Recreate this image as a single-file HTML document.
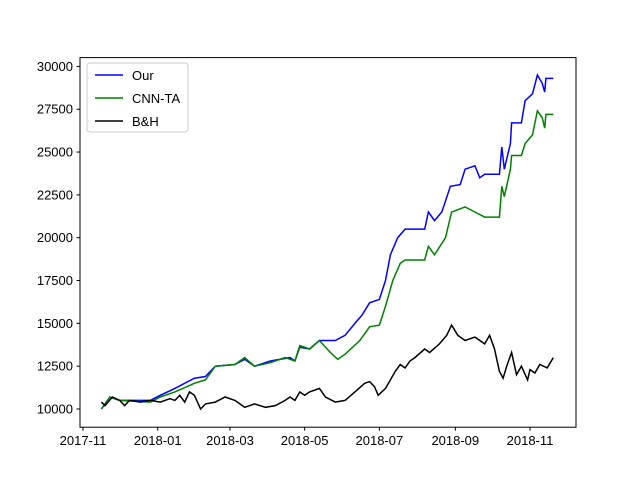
<!DOCTYPE html>
<html><head><meta charset="utf-8"><style>
body{margin:0;background:#fff}
svg text{font-family:"Liberation Sans",sans-serif;font-size:13px;fill:#000}
</style></head><body>
<svg id="chart" width="640" height="480" xmlns="http://www.w3.org/2000/svg">
<rect width="640" height="480" fill="#fff"/>
<g id="lines"></g>
<rect x="80" y="57.6" width="496" height="369.6" fill="none" stroke="#000" stroke-width="1"/>
<g id="axes"></g>
<g>
<rect x="87" y="63" width="101" height="69" rx="3" fill="#fff" fill-opacity="0.8" stroke="#ccc"/>
<line x1="95" y1="75" x2="123" y2="75" stroke="#0000ff" stroke-width="1.5"/>
<text x="132" y="80">Our</text>
<line x1="95" y1="98" x2="123" y2="98" stroke="#008000" stroke-width="1.5"/>
<text x="132" y="103">CNN-TA</text>
<line x1="95" y1="121" x2="123" y2="121" stroke="#000" stroke-width="1.5"/>
<text x="132" y="126">B&amp;H</text>
</g>
</svg>
<script>
// days since 2017-11-01
const ourDays=[15,22,30,55,63,75,91,100,108,124,132,140,153,169,173,177,185,193,206,214,222,228,234,242,247,251,257,263,279,282,287,293,300,308,312,320,324,328,340,342,344,349,350,358,361,367,371,375,377,378,384];
const ourVals=[10000,10700,10500,10500,10800,11200,11800,11900,12500,12600,12900,12500,12800,13000,12800,13600,13500,14000,14000,14300,15000,15500,16200,16400,17500,19000,20000,20500,20500,21500,21000,21500,23000,23100,24000,24200,23500,23700,23700,25300,24000,25500,26700,26700,28000,28400,29500,29000,28500,29300,29300];
const cnnDays=[15,22,30,55,63,75,91,100,108,124,132,140,153,165,173,177,185,193,202,208,214,226,234,242,247,253,259,263,279,282,287,296,301,312,320,328,340,342,344,349,350,358,361,367,371,375,377,378,384];
const cnnVals=[10000,10700,10500,10400,10700,11000,11500,11700,12500,12600,13000,12500,12700,13000,12800,13700,13500,14000,13300,12900,13200,14000,14800,14900,16000,17500,18500,18700,18700,19500,19000,20000,21500,21800,21500,21200,21200,23000,22400,24000,24800,24800,25500,26000,27400,27000,26400,27200,27200];
const bhDays=[15,18,24,30,34,38,47,55,63,71,75,79,83,87,91,96,100,108,116,124,132,140,149,157,165,169,173,177,181,185,193,198,206,214,222,230,234,238,241,247,255,259,263,267,271,279,283,291,297,301,306,312,320,328,332,336,340,343,346,350,354,358,363,365,369,373,379,384];
const bhVals=[10400,10200,10700,10500,10200,10500,10400,10500,10400,10600,10500,10800,10400,11000,10800,10000,10300,10400,10700,10500,10100,10300,10100,10200,10500,10700,10500,11000,10800,11000,11200,10700,10400,10500,11000,11500,11600,11300,10800,11200,12200,12600,12400,12800,13000,13500,13300,13800,14300,14900,14300,14000,14200,13800,14300,13500,12200,11800,12500,13300,12000,12500,11700,12300,12100,12600,12400,13000];
const yTicks=[10000,12500,15000,17500,20000,22500,25000,27500,30000];
const xTickDays=[0,61,120,181,242,304,365];
const xTickLabels=["2017-11","2018-01","2018-03","2018-05","2018-07","2018-09","2018-11"];

const NS="http://www.w3.org/2000/svg";
const xs=d=>83+d*1.2247;
const ys=v=>409-(v-10000)*0.017130;
const lines=document.getElementById('lines'),axes=document.getElementById('axes');
function addLine(days,vals,color,name){
  const p=document.createElementNS(NS,'polyline');
  p.setAttribute('points',days.map((d,i)=>xs(d).toFixed(1)+','+ys(vals[i]).toFixed(1)).join(' '));
  p.setAttribute('fill','none');p.setAttribute('stroke',color);p.setAttribute('stroke-width','1.5');
  
  
  lines.appendChild(p);
}
addLine(ourDays,ourVals,'#0000ff','our-line');
addLine(cnnDays,cnnVals,'#008000','cnn-ta-line');
addLine(bhDays,bhVals,'#000000','bh-line');
yTicks.forEach(v=>{
  const y=ys(v);
  const l=document.createElementNS(NS,'line');
  l.setAttribute('x1',76.5);l.setAttribute('x2',80);l.setAttribute('y1',y);l.setAttribute('y2',y);l.setAttribute('stroke','#000');
  
  
  axes.appendChild(l);
  const t=document.createElementNS(NS,'text');
  t.setAttribute('x',73);t.setAttribute('y',y+4.5);t.setAttribute('text-anchor','end');t.textContent=v;
  
  
  axes.appendChild(t);
});
xTickDays.forEach((d,i)=>{
  const x=xs(d);
  const l=document.createElementNS(NS,'line');
  l.setAttribute('x1',x);l.setAttribute('x2',x);l.setAttribute('y1',427.2);l.setAttribute('y2',430.7);l.setAttribute('stroke','#000');
  
  
  axes.appendChild(l);
  const t=document.createElementNS(NS,'text');
  t.setAttribute('x',x);t.setAttribute('y',445);t.setAttribute('text-anchor','middle');t.textContent=xTickLabels[i];
  
  
  axes.appendChild(t);
});
</script>
</body></html>
